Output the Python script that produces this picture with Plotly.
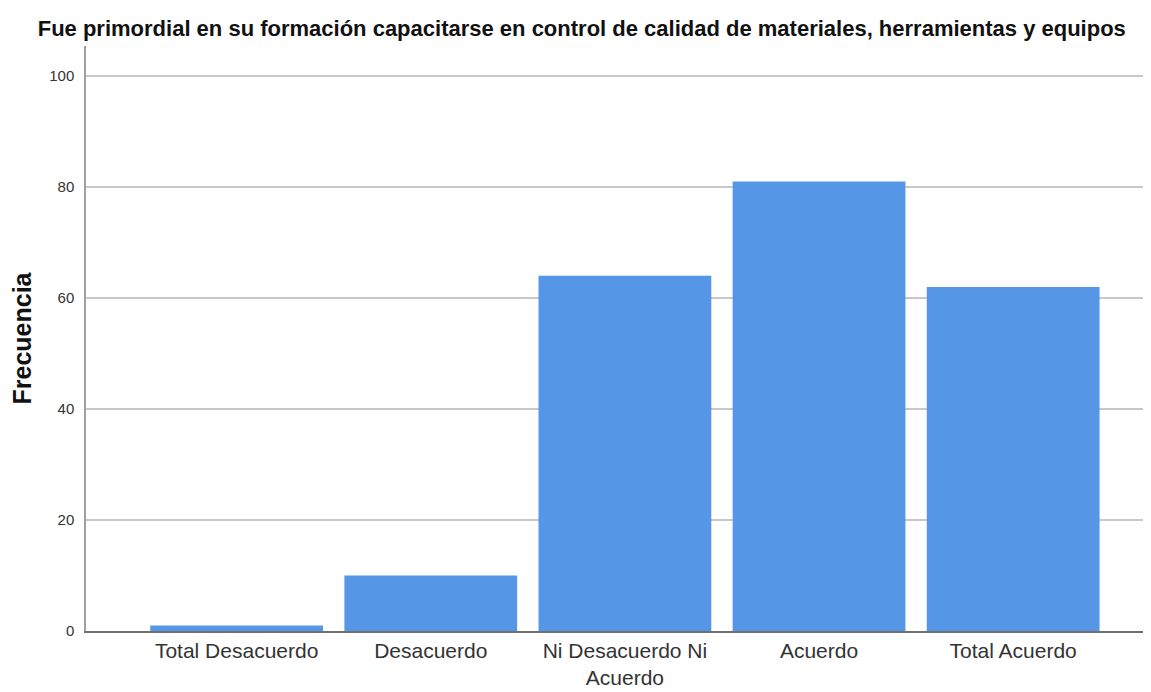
import plotly.graph_objects as go

categorias = ['Total Desacuerdo', 'Desacuerdo', 'Ni Desacuerdo Ni<br>Acuerdo', 'Acuerdo', 'Total Acuerdo']
frecuencia = [1, 10, 64, 81, 62]
y_ticks = [0, 20, 40, 60, 80, 100]

fig = go.Figure(
    go.Bar(
        x=categorias,
        y=frecuencia,
        marker=dict(color='#5596E6', line=dict(width=0)),
    )
)

# page body has an 8px margin, so the figure is a bit smaller than the window
fig.update_layout(
    width=1143,
    height=684,
    plot_bgcolor='white',
    paper_bgcolor='white',
    showlegend=False,
    bargap=0.11,
    margin=dict(t=38, l=78, r=0, b=61),
    title=dict(
        text='<b>Fue primordial en su formación capacitarse en control de calidad de materiales, herramientas y equipos</b>',
        x=0.502,
        xanchor='center',
        y=0.971,
        yref='container',
        yanchor='middle',
        font=dict(family='Liberation Sans', size=22, color='#111111'),
    ),
    font=dict(family='Liberation Sans', color='#333333'),
)

fig.update_xaxes(
    range=[-0.776, 4.71],
    automargin=False,
    showline=True,
    linecolor='#707070',
    linewidth=1.5,
    showgrid=False,
    ticks='',
    tickfont=dict(size=21, color='#333333'),
)

fig.update_yaxes(
    range=[0, 105.4],
    tickvals=y_ticks,
    showline=True,
    linecolor='#a0a0a0',
    linewidth=1.5,
    showgrid=True,
    gridcolor='#c8c8c8',
    gridwidth=1.5,
    zeroline=False,
    ticks='',
    ticklabelstandoff=7,
    tickfont=dict(size=15, color='#333333'),
    title=dict(text='<b>Frecuencia</b>', font=dict(size=25, color='#111111'), standoff=18),
)

fig.write_html('out.html')
